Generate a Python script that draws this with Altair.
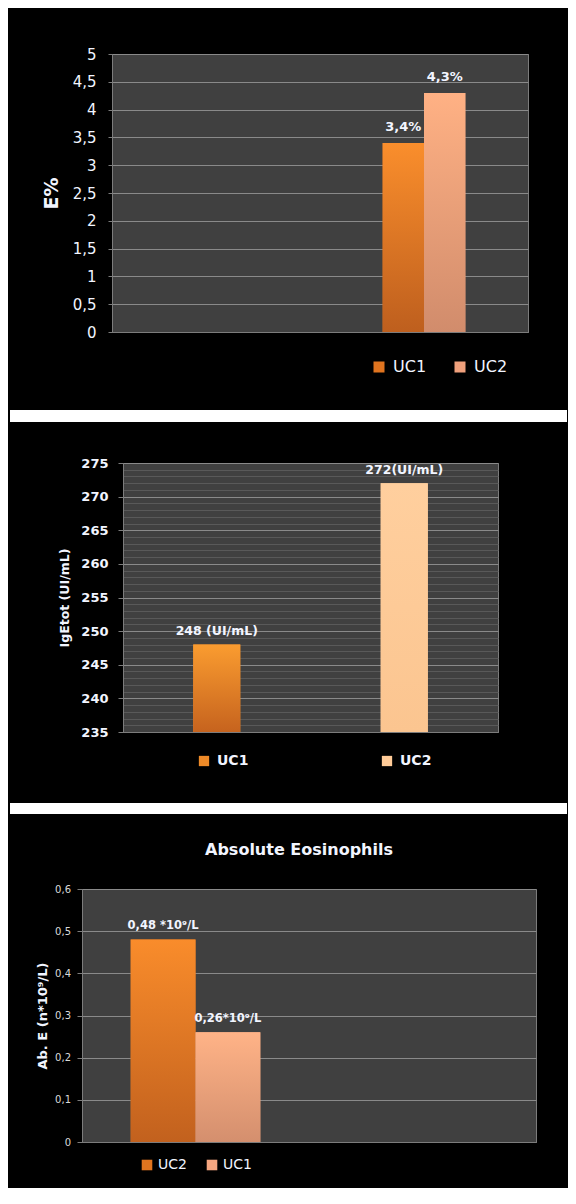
import altair as alt
import pandas as pd

FONT = "DejaVu Sans"
TEXT = "#f2f5ff"
PLOT_BG = "#404040"
GRID = "#8a8a8a"
MINOR = "#595959"
EDGE = "#7c7c7c"

# ---------------- Panel 1 : E%
e_groups = ["A", "B"]
e_series = ["UC1", "UC2"]
e_bar_group = ["B", "B"]
e_values = [3.4, 4.3]
e_labels = ["3,4%", "4,3%"]
e_ticks = [0, 0.5, 1, 1.5, 2, 2.5, 3, 3.5, 4, 4.5, 5]

# ---------------- Panel 2 : IgE total
ige_groups = ["UC1", "UC2"]
ige_series = ["UC1", "UC2"]
ige_bar_group = ["UC1", "UC2"]
ige_values = [248, 272]
ige_labels = ["248 (UI/mL)", "272(UI/mL)"]
ige_ticks = list(range(235, 276))

# ---------------- Panel 3 : Absolute eosinophils
abs_title = "Absolute Eosinophils"
abs_groups = ["A", "B"]
abs_series = ["UC2", "UC1"]
abs_bar_group = ["A", "A"]
abs_values = [0.48, 0.26]
abs_labels = ["0,48 *10⁹/L", "0,26*10⁹/L"]
abs_ticks = [0, 0.1, 0.2, 0.3, 0.4, 0.5, 0.6]


def grad(top, bottom):
    return alt.Gradient(
        gradient="linear", x1=0, x2=0, y1=0, y2=1,
        stops=[alt.GradientStop(color=top, offset=0),
               alt.GradientStop(color=bottom, offset=1)],
    )


def make_panel(groups, series, bar_group, values, labels, solid, grads,
               ydom, yaxis, pin, w, h, frame, legend, lab_size, lab_dy,
               base=None, extra=None, offset=True):
    df = pd.DataFrame({"group": bar_group, "series": series,
                       "value": values, "label": labels})
    left, right, top, bottom, gap, gapcolor = frame
    x = alt.X("group:N",
              scale=alt.Scale(domain=groups, paddingInner=pin, paddingOuter=pin / 2),
              axis=alt.Axis(labels=False, ticks=False, title=None, grid=False,
                            domainColor=EDGE))
    y = alt.Y("value:Q", scale=alt.Scale(domain=ydom, nice=False, zero=False),
              axis=yaxis)
    enc = dict(x=x, y=y)
    if offset:
        enc["xOffset"] = alt.XOffset(
            "series:N", scale=alt.Scale(domain=series, paddingInner=0, paddingOuter=0))
    tenc = dict(enc)
    if base is not None:
        enc["y2"] = alt.datum(base)
    ch = alt.Chart(df)
    layers = []
    one = pd.DataFrame({"k": [0]})
    layers.append(alt.Chart(one).mark_rect(color="black").encode(
        x=alt.value(-left), x2=alt.value(right),
        y=alt.value(-top), y2=alt.value(-top + 2)))
    layers.append(alt.Chart(one).mark_rect(color=gapcolor).encode(
        x=alt.value(-left), x2=alt.value(right),
        y=alt.value(bottom - 2 if gap == 0 else bottom), y2=alt.value(bottom + gap)))
    layers.append(ch.mark_bar().encode(
        color=alt.Color("series:N", scale=alt.Scale(domain=series, range=solid),
                        legend=legend), **enc))
    for s, g in zip(series, grads):
        layers.append(ch.transform_filter(alt.datum.series == s)
                      .mark_bar(color=g).encode(**enc))
    layers.append(ch.mark_text(font=FONT, fontWeight="bold", fontSize=lab_size,
                               color=TEXT, baseline="middle", dy=lab_dy)
                  .encode(text="label:N", **tenc))
    if extra is not None:
        layers.extend(extra)
    panel = alt.layer(*layers).properties(width=w, height=h)
    spacer = alt.Chart(one).mark_rect(color="black").encode(
        x=alt.value(0), x2=alt.value(1), y=alt.value(0), y2=alt.value(1)
    ).properties(width=1, height=1,
                 view=alt.ViewBackground(fill="black", stroke="black", strokeWidth=0))
    return alt.hconcat(spacer, panel, spacing=0)


comma_expr = "replace(format(datum.value, '~g'), '.', ',')"

# ---- panel 1  (legend x is measured from the row's left edge)
ax1 = alt.Axis(values=e_ticks, labelExpr=comma_expr, labelFont=FONT,
               labelFontSize=15, labelColor=TEXT, labelPadding=12, tickSize=4,
               tickColor=EDGE, domainColor=EDGE, gridColor=GRID,
               title="E%", titleFont=FONT, titleFontSize=19,
               titleFontWeight="bold", titleColor=TEXT, titlePadding=11)
leg1 = alt.Legend(orient="none", legendX=363, legendY=305, direction="horizontal",
                  title=None, symbolType="square", symbolSize=121,
                  symbolStrokeWidth=0, symbolOpacity=1, labelFont=FONT,
                  labelFontSize=16, labelColor=TEXT, labelOffset=6,
                  columnPadding=25, padding=0)
p1 = make_panel(e_groups, e_series, e_bar_group, e_values, e_labels,
                ["#E0741F", "#F0A07C"],
                [grad("#FA8E2C", "#BE5F1E"), grad("#FFB184", "#D18C6C")],
                [0, 5], ax1, 0.6024, 416, 278,
                (102, 455, 45, 356, 12, "white"), leg1, 13, -16)

# ---- panel 2
ax2 = alt.Axis(values=ige_ticks,
               labelExpr="datum.value % 5 === 0 ? datum.label : ''",
               labelOverlap=False, labelFont=FONT, labelFontSize=13,
               labelFontWeight="bold", labelColor=TEXT, labelPadding=10,
               tickSize=5, tickColor=EDGE,
               tickOpacity={"condition": {"test": "datum.value % 5 === 0", "value": 1}, "value": 0},
               gridColor={"condition": {"test": "datum.value % 5 === 0", "value": GRID}, "value": MINOR},
               domainColor=EDGE, title="IgEtot (UI/mL)", titleFont=FONT,
               titleFontSize=12.5, titleFontWeight="bold", titleColor=TEXT,
               titlePadding=9)
leg2 = alt.Legend(orient="none", legendX=189, legendY=291, direction="horizontal",
                  title=None, symbolType="square", symbolSize=106,
                  symbolStrokeWidth=0, symbolOpacity=1, labelFont=FONT,
                  labelFontSize=14, labelFontWeight="bold", labelColor=TEXT,
                  labelOffset=6, columnPadding=131, padding=0)
p2 = make_panel(ige_groups, ige_series, ige_bar_group, ige_values, ige_labels,
                ["#EE8A28", "#FFCB98"],
                [grad("#FA9C30", "#C6631E"), grad("#FFCF9E", "#FBC590")],
                [235, 275], ax2, 0.749, 375, 269,
                (113, 444, 39, 340, 11, "white"), leg2, 12.5, -13.5, base=235,
                offset=False)

# ---- panel 3
ax3 = alt.Axis(values=abs_ticks, labelExpr=comma_expr, labelFont=FONT,
               labelFontSize=10, labelColor="#dadada", labelPadding=6.5,
               tickSize=5, tickColor=EDGE, domainColor=EDGE, gridColor=GRID,
               title="Ab. E (n*10⁹/L)", titleFont=FONT, titleFontSize=13,
               titleFontWeight="bold", titleColor=TEXT, titlePadding=5)
leg3 = alt.Legend(orient="none", legendX=132, legendY=269, direction="horizontal",
                  title=None, symbolType="square", symbolSize=112,
                  symbolStrokeWidth=0, symbolOpacity=1, labelFont=FONT,
                  labelFontSize=14, labelColor=TEXT, labelOffset=4,
                  columnPadding=18, padding=0)
title3 = alt.Chart(pd.DataFrame({"t": [abs_title]})).mark_text(
    font=FONT, fontSize=16, fontWeight="bold", color=TEXT,
    align="center", baseline="middle").encode(
    x=alt.value(217), y=alt.value(-39), text="t:N")
p3 = make_panel(abs_groups, abs_series, abs_bar_group, abs_values, abs_labels,
                ["#E0741F", "#F5A680"],
                [grad("#F98C2B", "#C2611E"), grad("#FFB387", "#D48F6E")],
                [0, 0.6], ax3, 0.429, 454, 253,
                (72, 485, 73, 298, 0, "black"), leg3, 11.5, -13.5,
                extra=[title3])

chart = alt.vconcat(p1, p2, p3, spacing=0).resolve_scale(
    x="independent", y="independent", xOffset="independent", color="independent"
).resolve_legend(color="independent").properties(
    padding=0, background="black"
).configure_view(fill=PLOT_BG, stroke=EDGE, strokeWidth=1)

chart.save("out.html", embed_options={"renderer": "svg", "actions": False})
